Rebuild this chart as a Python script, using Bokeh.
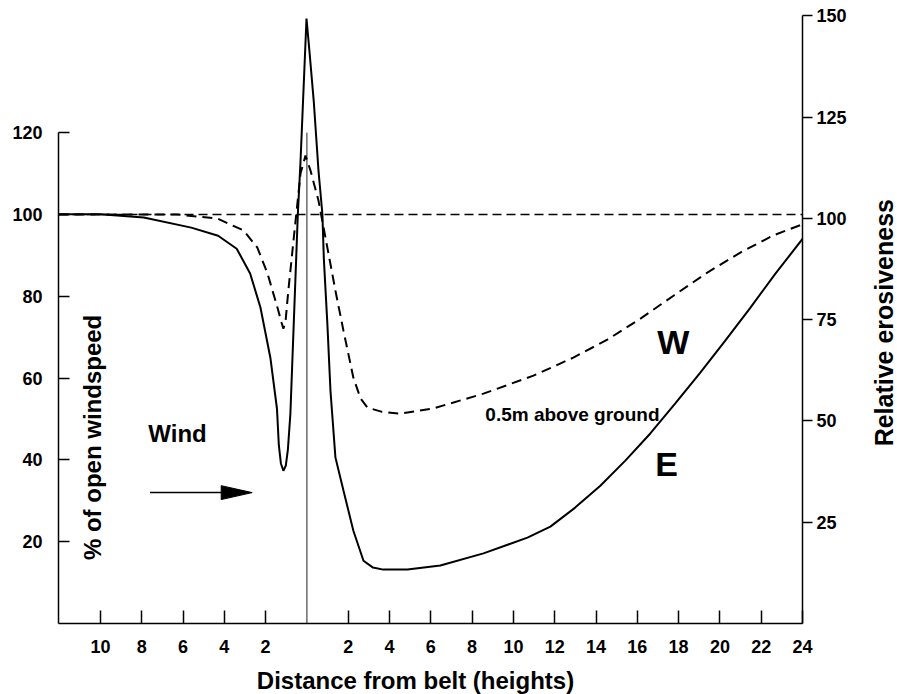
import math
from bokeh.plotting import figure
from bokeh.layouts import row, column
from bokeh.models import Range1d, LinearAxis, FixedTicker, Label, Span
from bokeh.embed import file_html
from bokeh.resources import INLINE

FONT = "Liberation Sans"

# ---- data ----
x_ticks = [-10, -8, -6, -4, -2, 2, 4, 6, 8, 10, 12, 14, 16, 18, 20, 22, 24]
x_tick_labels = {t: str(abs(t)) for t in x_ticks}
left_ticks = [20, 40, 60, 80, 100, 120]
right_ticks = [25, 50, 75, 100, 125, 150]

# Relative erosiveness (solid, right axis)
e_x = [-12.03, -10, -7.9, -5.6, -4.3, -3.4, -2.75, -2.25, -1.77, -1.45, -1.36, -1.26,
       -1.14, -1.02, -0.92, -0.80, -0.56, -0.44, -0.31, -0.02, 0.12, 0.33, 0.56, 0.75,
       0.82, 0.99, 1.14, 1.38, 1.77, 2.25, 2.74, 3.2, 3.7, 4.87, 6.46, 8.55, 10.68,
       11.79, 12.99, 14.21, 15.42, 16.63, 17.84, 19.05, 20.26, 21.47, 22.68, 24.0]
e_val = [101, 101, 100.2, 97.7, 95.7, 92.5, 86.4, 78, 65.6, 53, 44, 39.5,
         37.7, 39, 43, 51.8, 84.6, 101, 114, 149.3, 141.4, 129, 111.8, 101,
         90, 74, 57.5, 41, 32.8, 22.9, 15.5, 13.8, 13.3, 13.3, 14.3, 17.3, 21.2,
         23.9, 28.6, 34.0, 40.2, 46.9, 54.3, 61.9, 69.8, 77.9, 86.3, 94.9]

# % of open windspeed (dashed, left axis)
w_x = [-12.03, -6.3, -4.33, -3.07, -2.4, -1.91, -1.43, -1.23, -1.14, -1.04, -0.9, -0.65,
       -0.31, -0.07, 0.17, 0.56, 0.99, 1.38, 1.77, 2.25, 2.6, 2.93, 3.6, 4.53, 6.13,
       8.55, 10.97, 12.9, 14.55, 16.17, 17.77, 19.39, 20.99, 22.59, 24.0]
w_val = [100, 100, 99, 96.1, 91.9, 85.6, 77.3, 73.6, 72.1, 73.6, 81.4, 93.6,
         110, 114.4, 110.8, 103.4, 91.9, 81.4, 71.6, 60.1, 55, 52.8, 51.8, 51.3, 52.6,
         56.2, 60.6, 65.0, 69.4, 74.6, 80.2, 85.8, 90.7, 94.9, 97.6]

open_ref = 100
belt_x = 0
belt_top = 120

wind_arrow_x0 = -7.6
wind_arrow_x1 = -2.65
wind_arrow_y = 32
head_len = 1.5
head_half = 1.7

# ---- main figure ----
p = figure(width=865, height=662,
           x_range=Range1d(-12.03, 24), y_range=Range1d(0, 148.9),
           output_backend="svg", toolbar_location=None,
           min_border_left=58, min_border_right=63, min_border_top=14, min_border_bottom=39)
p.extra_y_ranges = {"ero": Range1d(0, 150.3)}
p.outline_line_color = None
p.xgrid.grid_line_color = None
p.ygrid.grid_line_color = None
p.background_fill_color = "white"

def style_axis(ax):
    ax.axis_line_color = "black"
    ax.axis_line_width = 1.5
    ax.major_tick_line_color = "black"
    ax.major_tick_line_width = 1.5
    ax.minor_tick_line_color = None
    ax.major_label_text_font = FONT
    ax.major_label_text_font_style = "bold"
    ax.major_label_text_font_size = "18px"
    ax.major_label_text_color = "black"

xa = p.xaxis[0]
style_axis(xa)
xa.ticker = FixedTicker(ticks=x_ticks)
xa.major_label_overrides = x_tick_labels
xa.major_tick_in = 13
xa.major_tick_out = 0
xa.major_label_standoff = 16

ya = p.yaxis[0]
style_axis(ya)
ya.ticker = FixedTicker(ticks=left_ticks)
ya.bounds = (0, 120)
ya.major_tick_in = 11
ya.major_tick_out = 0
ya.major_label_standoff = 16

ra = LinearAxis(y_range_name="ero")
style_axis(ra)
ra.ticker = FixedTicker(ticks=right_ticks)
ra.bounds = (0, 150)
ra.major_tick_in = 0
ra.major_tick_out = 10
ra.major_label_standoff = 4
p.add_layout(ra, "right")

# reference line (open windspeed)
p.add_layout(Span(location=open_ref, dimension="width", line_color="black",
                  line_width=1.5, line_dash="9 5"))
# belt
p.segment(x0=[belt_x], y0=[0], x1=[belt_x], y1=[belt_top], line_color="#222222", line_width=1)

# curves
p.line(w_x, w_val, line_color="black", line_width=2, line_dash="10 6")
p.line(e_x, e_val, y_range_name="ero", line_color="black", line_width=2)

# wind arrow
p.segment(x0=[wind_arrow_x0], y0=[wind_arrow_y], x1=[wind_arrow_x1 - head_len], y1=[wind_arrow_y],
          line_color="black", line_width=1.5)
p.patch([wind_arrow_x1, wind_arrow_x1 - head_len, wind_arrow_x1 - head_len],
        [wind_arrow_y, wind_arrow_y + head_half, wind_arrow_y - head_half],
        fill_color="black", line_color="black")

def lab(fig, x, y, text, size, align="left", angle=0.0):
    fig.add_layout(Label(x=x, y=y, text=text, text_font=FONT, text_font_style="bold",
                         text_font_size=size, text_align=align, text_baseline="middle",
                         angle=angle, text_color="black"))

lab(p, -7.68, 46.5, "Wind", "24px")
lab(p, -10.39, 45.5, "% of open windspeed", "24px", align="center", angle=math.pi / 2)
lab(p, 8.64, 51.1, "0.5m above ground", "19px")
lab(p, 16.97, 68.9, "W", "34px")
lab(p, 16.87, 38.9, "E", "34px")

def strip(w, h):
    f = figure(width=w, height=h, x_range=Range1d(0, w), y_range=Range1d(0, h),
               x_axis_location=None, y_axis_location=None,
               output_backend="svg", toolbar_location=None,
               min_border_left=0, min_border_right=0, min_border_top=0, min_border_bottom=0)
    f.xgrid.grid_line_color = None
    f.ygrid.grid_line_color = None
    f.outline_line_color = None
    return f

# right-hand axis title (reads bottom to top)
side = strip(32, 662)
lab(side, 18, 327, "Relative erosiveness", "25px", align="center", angle=math.pi / 2)

# bottom axis title
bottom = strip(897, 32)
lab(bottom, 415, 14, "Distance from belt (heights)", "24px", align="center")

layout = column(row(p, side, spacing=0), bottom, spacing=0)
open("out.html", "w").write(file_html(layout, INLINE))
